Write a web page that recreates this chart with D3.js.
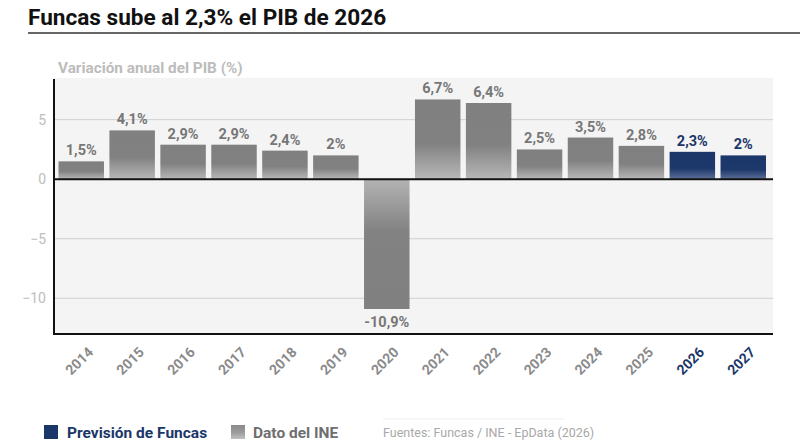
<!DOCTYPE html>
<html><head><meta charset="utf-8">
<script src="https://cdn.jsdelivr.net/npm/d3@7"></script>
<style>body{margin:0;background:#fff;font-family:Roboto,"Noto Sans",sans-serif;}</style>
</head><body><svg id="c" width="800" height="445"></svg>
<script>
const years = ["2014","2015","2016","2017","2018","2019","2020","2021","2022","2023","2024","2025","2026","2027"];
const values = [1.5,4.1,2.9,2.9,2.4,2,-10.9,6.7,6.4,2.5,3.5,2.8,2.3,2];
const forecast = [false,false,false,false,false,false,false,false,false,false,false,false,true,true];
const yTicks = [-10,-5,0,5];
const legendLabels = ["Previsión de Funcas","Dato del INE"];

const svg = d3.select("#c");
const navy = "#1b3669";
const defs = svg.append("defs");
function grad(id, stops){
  const g = defs.append("linearGradient").attr("id",id).attr("x1",0).attr("y1",0).attr("x2",0).attr("y2",1);
  stops.forEach(s=>g.append("stop").attr("offset",s[0]).attr("stop-color",s[1]));
}
grad("gpos",[["0%","#808080"],["55%","#818181"],["100%","#b8b8b8"]]);
grad("gneg",[["0%","#b3b3b3"],["40%","#828282"],["100%","#808080"]]);
grad("bpos",[["0%","#1b3669"],["60%","#1d386b"],["100%","#5d7098"]]);
grad("leg",[["0%","#8a8a8a"],["50%","#9a9a9a"],["100%","#c0c0c0"]]);

svg.append("text").attr("x",28).attr("y",25).attr("font-size",22.6).attr("font-weight",700).attr("fill","#111").text("Funcas sube al 2,3% el PIB de 2026");
svg.append("line").attr("x1",28).attr("x2",800).attr("y1",33).attr("y2",33).attr("stroke","#333").attr("stroke-width",1.5);
svg.append("text").attr("x",58).attr("y",73).attr("font-size",15.3).attr("font-weight",700).attr("fill","#bcbcbc").text("Variación anual del PIB (%)");

const pL=54, pR=773, pT=78, pB=334;
const y = d3.scaleLinear().domain([-13,8.5]).range([pB,pT]);
const x = d3.scaleBand().domain(years).range([58.5,766]).paddingInner(0.107).paddingOuter(0);

svg.append("rect").attr("x",pL).attr("y",pT).attr("width",pR-pL).attr("height",pB-pT).attr("fill","#f4f4f4");

svg.append("g").selectAll("line").data(yTicks.filter(d=>d!==0)).join("line")
  .attr("x1",pL).attr("x2",pR).attr("y1",d=>y(d)).attr("y2",d=>y(d)).attr("stroke","#cfcfcf").attr("stroke-width",1);
svg.append("g").selectAll("text").data(yTicks).join("text")
  .attr("x",46).attr("y",d=>y(d)+5).attr("text-anchor","end").attr("font-size",14).attr("fill","#bdbdbd")
  .text(d=>d<0?"\u2212"+Math.abs(d):d);

svg.append("g").selectAll("rect").data(values).join("rect")
  .attr("x",(d,i)=>x(years[i])).attr("width",x.bandwidth())
  .attr("y",d=>y(Math.max(0,d))).attr("height",d=>Math.abs(y(d)-y(0)))
  .attr("fill",(d,i)=>forecast[i]?"url(#bpos)":(d<0?"url(#gneg)":"url(#gpos)"));

const fmt = d=>String(d).replace(".",",")+"%";
svg.append("g").selectAll("text").data(values).join("text")
  .attr("x",(d,i)=>x(years[i])+x.bandwidth()/2)
  .attr("y",d=>d>=0?y(d)-6:y(d)+18)
  .attr("text-anchor","middle").attr("font-size",14.5).attr("font-weight",700)
  .attr("fill",(d,i)=>forecast[i]?navy:"#777")
  .text(fmt);

svg.append("line").attr("x1",pL).attr("x2",pR).attr("y1",y(0)).attr("y2",y(0)).attr("stroke","#111").attr("stroke-width",2);
svg.append("line").attr("x1",pL).attr("x2",pR).attr("y1",pB).attr("y2",pB).attr("stroke","#111").attr("stroke-width",2);
svg.append("line").attr("x1",pL).attr("x2",pL).attr("y1",pT+1).attr("y2",pB+1).attr("stroke","#111").attr("stroke-width",2);

svg.append("g").selectAll("text").data(years).join("text")
  .attr("transform",(d,i)=>`translate(${x(d)+x.bandwidth()/2-2},${361}) rotate(-45)`)
  .attr("text-anchor","middle").attr("dy","0.35em").attr("font-size",14).attr("font-weight",700)
  .attr("fill",(d,i)=>forecast[i]?navy:"#8a8a8a").text(d=>d);

const lg = svg.append("g");
lg.append("rect").attr("x",44).attr("y",425).attr("width",14).attr("height",14).attr("fill",navy);
lg.append("text").attr("x",67).attr("y",438).attr("font-size",15.5).attr("font-weight",700).attr("fill",navy).text(legendLabels[0]);
lg.append("rect").attr("x",231).attr("y",425).attr("width",14).attr("height",14).attr("fill","url(#leg)");
lg.append("text").attr("x",253).attr("y",438).attr("font-size",15.5).attr("font-weight",700).attr("fill","#6f6f6f").text(legendLabels[1]);
svg.append("line").attr("x1",383).attr("x2",564).attr("y1",419).attr("y2",419).attr("stroke","#eeeeee").attr("stroke-width",1);
svg.append("text").attr("x",383).attr("y",437).attr("font-size",12.5).attr("fill","#a8a8a8").text("Fuentes: Funcas / INE - EpData (2026)");
</script></body></html>
